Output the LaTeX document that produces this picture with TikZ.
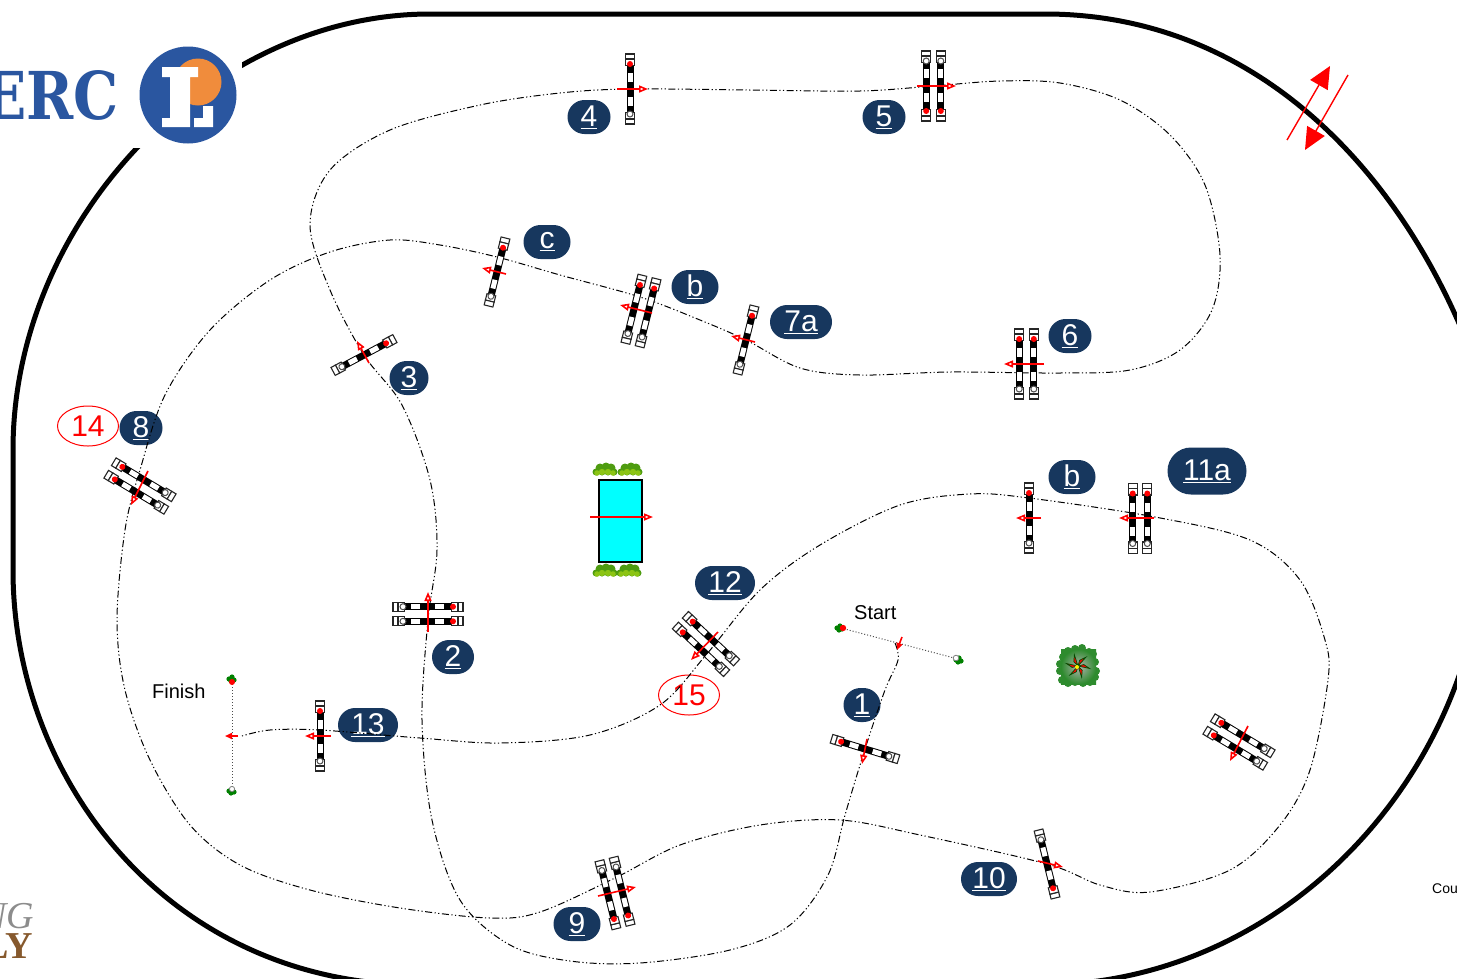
\documentclass[tikz,border=0pt]{standalone}
\usepackage{fontspec}
\setmainfont{Liberation Sans}
\newfontfamily\logofont[FakeStretch=0.86]{DejaVu Serif}
\newfontfamily\sponsorfont{Liberation Serif}
\usetikzlibrary{arrows.meta,shapes.misc,shapes.geometric}
\definecolor{navy}{HTML}{17375E}
\definecolor{logoblue}{HTML}{2A56A0}
\definecolor{logoorange}{HTML}{F08C3C}
\definecolor{leafdark}{HTML}{4E9C10}
\definecolor{leaf}{HTML}{8CC414}
\definecolor{bush}{HTML}{2E8B2E}
\definecolor{aqua}{HTML}{00FFFF}
\newcommand{\railparts}{
	\fill [black] (-3.5,-26) rectangle (3.5,26);
	\fill [white] (-2.5,-16) rectangle (2.5,-7);
	\fill [white] (-2.5,8) rectangle (2.5,17);
	\draw [railend] (-4.5,-35) rectangle (4.5,-30);
	\draw [railend] (-4.5,-30) rectangle (4.5,-23.5);
	\draw [railend] (-4.5,23.5) rectangle (4.5,30);
	\draw [railend] (-4.5,30) rectangle (4.5,35);
	\fill [red] (0,-25) circle (3pt);
	\draw [black!70, fill=white, line width=1pt] (0,25) circle (3pt);
}
\tikzset{
	number/.style={rounded rectangle, fill=navy, text=white, inner sep=0pt, minimum height=34pt, font=\fontsize{30}{36}\selectfont},
	redring/.style={ellipse, draw=red, line width=1pt, text=red, inner sep=0pt, minimum width=61pt, minimum height=40pt, font=\fontsize{30}{36}\selectfont},
	caption/.style={inner sep=0pt, font=\fontsize{20}{24}\selectfont},
	track/.style={line width=5pt, black},
	course/.style={line width=1pt, dash pattern=on 7pt off 2.5pt on 1.2pt off 2.5pt on 1.2pt off 2.5pt},
	direction/.style={line width=1.6pt, red, -{Triangle[fill=white, length=9pt, width=7pt]}},
	flag/.style={line width=1.6pt, red, -{Triangle[length=7pt, width=6pt]}},
	railend/.style={draw=black!85, fill=white, line width=1.1pt},
	rail/.pic={\railparts},
	oxer/.pic={
		\begin{scope}[xshift=-7.3pt]\railparts\end{scope}
		\begin{scope}[xshift=7.3pt]\railparts\end{scope}
	},
	plant/.pic={
		\foreach \x/\y/\r in {-9/2/3.5,-5/-2/4.5,1/-3/4.5,6/-2/4.5,9/2/3.5,-3/2/3.5,3/2/3.5}
			\fill [leafdark] (\x,\y) circle (\r pt);
		\foreach \x/\y/\r in {-8/3/2.8,-3/2/3.2,3/2/3.2,8/3/2.8}
			\fill [leaf] (\x,\y) circle (\r pt);
		\foreach \x in {-5,0,5}
			\fill [white] (\x,7) circle (1.3pt);
	},
	standard/.pic={
		\foreach \x/\y in {-3/0,0/-2,2/1,-1/2}
			\fill [green!50!black] (\x,\y) circle (2.6pt);
	},
}
\begin{document}
\begin{tikzpicture}[x=1pt, y=-1pt]
	\useasboundingbox (0,0) rectangle (1457,978);
	\clip (0,0) rectangle (1457,978);

	% fence
	\draw [track] (430,14) -- (1045,14)
		.. controls (1255,14) and (1400,170) .. (1470,350)
		-- (1470,640)
		.. controls (1420,830) and (1250,985) .. (1040,985)
		-- (420,985)
		.. controls (170,985) and (13,780) .. (13,570)
		-- (13,450)
		.. controls (13,220) and (210,14) .. (430,14);

	\draw [red, line width=1.4pt, -{Triangle[length=22pt, width=20pt]}] (1287,140) -- (1330,66);
	\draw [red, line width=1.4pt, -{Triangle[length=22pt, width=20pt]}] (1348,75) -- (1305,150);

	% logo
	\fill [white] (0,45) rectangle (242,148);
	\node (erc) [anchor=base east, inner sep=0pt, text=logoblue, font=\logofont\bfseries\fontsize{66}{70}\selectfont] at (119,119) {ERC};
	\fill [logoblue] (188,95) circle (48.5pt);
	\fill [logoorange] (198,82) circle (23.5pt);
	\fill [white] (162,67) -- (198,67) -- (198,77) -- (190,77) -- (190,127)
		-- (162,127) -- (162,118) -- (170,118) -- (170,77) -- (162,77) -- cycle;
	\fill [white] (194,118) -- (203,118) -- (203,106) -- (213,106) -- (213,127) -- (194,127) -- cycle;

	% corner texts
	\node (ng) [anchor=base east, inner sep=0pt, text=black!45, font=\sponsorfont\itshape\fontsize{38}{40}\selectfont] at (34,928) {NG};
	\node (ly) [anchor=base east, inner sep=0pt, text=brown!70!black, font=\sponsorfont\bfseries\fontsize{38}{40}\selectfont] at (33,958) {LY};
	\node (cou) [anchor=base west, inner sep=0pt, font=\fontsize{14}{16}\selectfont] at (1432,893) {Cou};

	% numbers
	\node (n1) [number, minimum width=37pt] at (862,705) {\underline{1}};
	\node (n2) [number, minimum width=42pt] at (453,657) {\underline{2}};
	\node (n3) [number, minimum width=39pt] at (409,378) {\underline{3}};
	\node (n4) [number, minimum width=43pt] at (589,117) {\underline{4}};
	\node (n5) [number, minimum width=43pt] at (884,117) {\underline{5}};
	\node (n6) [number, minimum width=43pt] at (1070,336) {\underline{6}};
	\node (n7a) [number, minimum width=62pt] at (801,322) {\underline{7a}};
	\node (n8) [number, minimum width=43pt] at (141,428) {\underline{8}};
	\node (n9) [number, minimum width=47pt] at (577,924) {\underline{9}};
	\node (n10) [number, minimum width=56pt] at (989,879) {\underline{10}};
	\node (n11a) [number, minimum width=79pt, minimum height=47pt] at (1207,471) {\underline{11a}};
	\node (n12) [number, minimum width=60pt] at (725,583) {\underline{12}};
	\node (n13) [number, minimum width=60pt] at (368,725) {\underline{13}};
	\node (nb) [number, minimum width=47pt] at (695,287) {\underline{b}};
	\node (nc) [number, minimum width=47pt] at (547,242) {\underline{c}};
	\node (nbb) [number, minimum width=47pt] at (1072,477) {\underline{b}};
	\node (r14) [redring] at (88,426) {14};
	\node (r15) [redring] at (689,695) {15};
	\node (st) [caption, anchor=base west] at (854,619) {Start};
	\node (fn) [caption, anchor=base west] at (152,698) {Finish};

	% course
	\draw [course] plot [smooth, tension=0.55] coordinates {
		(895,643) (898,660) (885,690) (865,749) (845,815) (828,875) (790,925) (730,950) (640,963)
		(570,961) (510,945) (460,900) (432,820) (422,720) (428,620) (437,550) (430,480) (402,405)
		(364,355) (330,290) (310,225) (330,170) (390,130) (480,105) (560,93) (630,89) (750,90)
		(860,91) (933,86) (1000,81) (1060,83) (1120,100) (1170,135) (1205,185) (1220,255)
		(1212,310) (1180,350) (1130,370) (1060,373) (950,372) (860,375) (800,368) (746,340)
		(700,320) (640,297) (560,275) (497,257) (440,245) (390,240) (330,252) (270,280) (210,330)
		(165,395) (140,470) (125,530) (117,620) (125,690) (150,760) (190,825) (240,865) (310,890)
		(400,908) (490,918) (540,912) (615,878) (680,845) (760,825) (840,820) (920,835)
		(1047,864) (1100,885) (1150,892) (1230,870) (1280,825) (1310,770) (1328,680)
		(1325,640) (1300,580) (1250,540) (1155,517) (1029,498) (970,494) (900,505) (820,545)
		(760,590) (706,655) (660,705) (590,735) (500,743) (420,738) (320,730) (270,730) (242,736)
	};

	% start and finish
	\draw [black!70, dotted, line width=1pt] (841,628) -- (958,659);
	\draw [black!70, dotted, line width=1pt] (232,681) -- (232,791);
	\pic at (840,628) {standard};
	\pic at (959,660) {standard};
	\pic at (232,679) {standard};
	\pic at (232,791) {standard};
	\fill [red] (843,628) circle (3.2pt);
	\draw [black!50, fill=white, line width=0.8pt] (956,658) circle (2.8pt);
	\fill [red] (232,682) circle (3pt);
	\draw [black!50, fill=white, line width=0.8pt] (232,789) circle (2.6pt);
	\draw [flag] (902,637) -- (897,650);
	\draw [flag] (238,736) -- (225,736);

	% single rails
	\pic [rotate=0] at (630,89) {rail};
	\pic [rotate=-14] at (497,272) {rail};
	\pic [rotate=-14] at (746,340) {rail};
	\pic [rotate=-62] at (364,355) {rail};
	\pic [rotate=0] at (320,736) {rail};
	\pic [rotate=0] at (1029,518) {rail};
	\pic [rotate=73] at (865,749) {rail};
	\pic [rotate=194] at (1047,864) {rail};

	% oxers
	\pic [rotate=180] at (933.5,86) {oxer};
	\pic [rotate=-14] at (641,311) {oxer};
	\pic [rotate=0] at (1026.5,364) {oxer};
	\pic [rotate=59] at (140,486) {oxer};
	\pic [rotate=-90] at (428,614) {oxer};
	\pic [rotate=47] at (706,644) {oxer};
	\pic [rotate=0] at (1140,518.5) {oxer};
	\pic [rotate=194] at (615,893) {oxer};
	\pic [rotate=59] at (1239,742) {oxer};

	% centre obstacle
	\pic at (605,470) {plant};
	\pic at (630,470) {plant};
	\pic at (605,571) {plant};
	\pic at (629,571) {plant};
	\draw [fill=aqua, line width=1.2pt] (599,480) rectangle (642,562);

	% shrub
	\foreach \x/\y in {-15/-9,-10/-15,-3/-17,4/-18,11/-14,15/-12,17/-4,18/5,17/11,12/16,5/17,-3/16,-10/17,-16/14,-18/5,-18/-2}
		\fill [bush] (1078+\x,666+\y) circle (4pt);
	\shade [inner color=black!30, outer color=bush] (1061,649) rectangle (1096,684);
	\foreach \a in {10,70,...,310}
		\draw [green!30!black, fill=red, line width=0.7pt] (1078,666) -- ++(\a-24:6) -- ++(\a+24:7) -- cycle;
	\fill [yellow] (1077,667) circle (2pt);

	% directions
	\draw [direction] (617,89) -- (648,89);
	\draw [direction] (917,86) -- (956,86);
	\draw [direction] (506,274) -- (482,268);
	\draw [direction] (652,313) -- (620,305);
	\draw [direction] (755,342) -- (731,336);
	\draw [direction] (1044,364) -- (1004,364);
	\draw [direction] (369,363) -- (357,341);
	\draw [direction] (148,471) -- (131,505);
	\draw [direction] (428,632) -- (428,592);
	\draw [direction] (718,632) -- (691,660);
	\draw [direction] (331,736) -- (305,736);
	\draw [direction] (1041,518) -- (1016,518);
	\draw [direction] (1154,518) -- (1119,518);
	\draw [direction] (867,739) -- (862,764);
	\draw [direction] (598,896) -- (636,887);
	\draw [direction] (1038,861) -- (1063,867);
	\draw [direction] (1248,726) -- (1230,761);
	\draw [direction] (590,517) -- (653,517);
\end{tikzpicture}
\end{document}
